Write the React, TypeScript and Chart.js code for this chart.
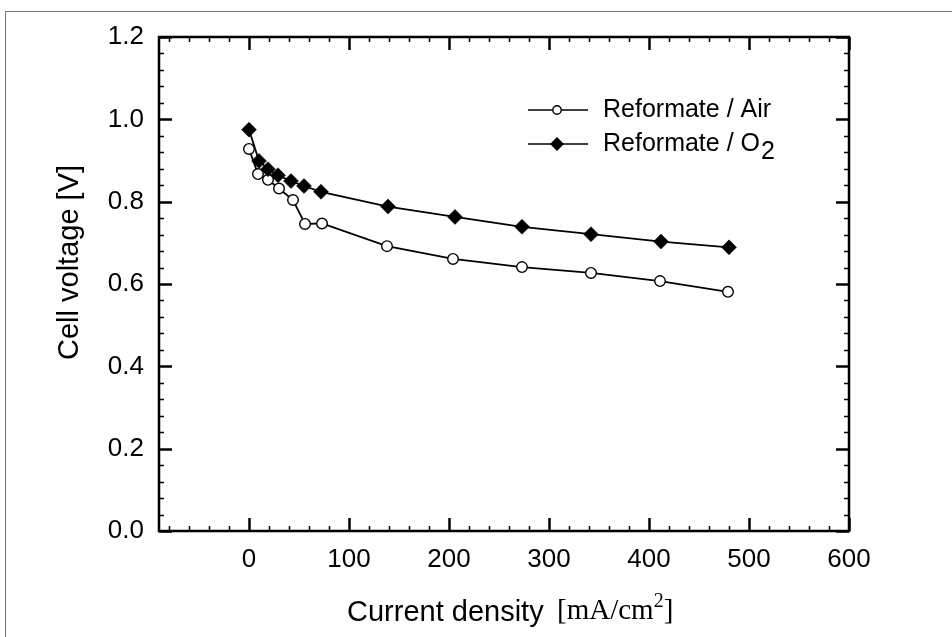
import React, { useEffect, useRef } from "react";
import { Chart, registerables } from "chart.js";

Chart.register(...registerables);

// ---- data ----
const airCurrent = [0, 9, 19, 30, 44, 56, 73, 138, 204, 273, 342, 411, 479];
const airVoltage = [0.928, 0.867, 0.853, 0.832, 0.804, 0.746, 0.747, 0.692, 0.661, 0.641, 0.627, 0.607, 0.581];
const o2Current = [0, 10, 19, 29, 42, 55, 72, 139, 206, 273, 342, 412, 480];
const o2Voltage = [0.975, 0.899, 0.879, 0.864, 0.85, 0.838, 0.824, 0.788, 0.763, 0.739, 0.721, 0.703, 0.689];

const xTickValues = [0, 100, 200, 300, 400, 500, 600];
const yTickValues = [0, 0.2, 0.4, 0.6, 0.8, 1.0, 1.2];
const xMinorStep = 20;
const yMinorStep = 0.04;

const airLabel = "Reformate / Air";
const o2LabelMain = "Reformate / O";
const o2LabelSub = "2";
const xTitleSans = "Current density";
const xTitleSerif = "[mA/cm";
const xTitleSup = "2";
const xTitleClose = "]";
const yTitle = "Cell voltage [V]";

const SANS = '"Liberation Sans", Arial, sans-serif';
const SERIF = '"Liberation Serif", "Times New Roman", serif';

const decorPlugin = {
  id: "decor",
  afterDatasetsDraw(chart: any) {
    const { ctx, chartArea: a, scales } = chart;
    const xs = scales.x;
    const ys = scales.y;
    ctx.save();
    ctx.strokeStyle = "#000";
    ctx.lineCap = "butt";

    const MAJ = 13;
    const MIN = 5;

    const xStart = Math.ceil(xs.min / xMinorStep);
    const xEnd = Math.floor(xs.max / xMinorStep);
    for (let i = xStart; i <= xEnd; i++) {
      const v = i * xMinorStep;
      const major = xTickValues.includes(v);
      const px = Math.round(xs.getPixelForValue(v)) + 0.5;
      const len = major ? MAJ : MIN;
      ctx.lineWidth = major ? 2.5 : 1.5;
      ctx.beginPath();
      ctx.moveTo(px, a.bottom);
      ctx.lineTo(px, a.bottom - len);
      ctx.moveTo(px, a.top);
      ctx.lineTo(px, a.top + len);
      ctx.stroke();
    }
    const yCount = Math.round((ys.max - ys.min) / yMinorStep);
    for (let i = 0; i <= yCount; i++) {
      const v = ys.min + i * yMinorStep;
      const major = yTickValues.some((t) => Math.abs(t - v) < 1e-6);
      const py = Math.round(ys.getPixelForValue(v)) + 0.5;
      const len = major ? MAJ : MIN;
      ctx.lineWidth = major ? 2.5 : 1.5;
      ctx.beginPath();
      ctx.moveTo(a.left, py);
      ctx.lineTo(a.left + len, py);
      ctx.moveTo(a.right, py);
      ctx.lineTo(a.right - len, py);
      ctx.stroke();
    }
    ctx.lineWidth = 2.5;
    ctx.strokeRect(a.left, a.top, a.right - a.left, a.bottom - a.top);
    ctx.restore();
  },
  afterDraw(chart: any) {
    const { ctx } = chart;
    ctx.save();
    ctx.fillStyle = "#000";
    ctx.strokeStyle = "#000";

    // ---- legend ----
    const lx0 = 528;
    const lx1 = 588;
    const mx = 557;
    const tx = 603;
    const rows = [110, 144];
    ctx.lineWidth = 1.6;
    rows.forEach((y) => {
      ctx.beginPath();
      ctx.moveTo(lx0, y);
      ctx.lineTo(lx1, y);
      ctx.stroke();
    });
    ctx.beginPath();
    ctx.arc(mx, rows[0], 4.2, 0, Math.PI * 2);
    ctx.fillStyle = "#fff";
    ctx.fill();
    ctx.lineWidth = 1.4;
    ctx.stroke();
    ctx.fillStyle = "#000";
    ctx.beginPath();
    const d = 7;
    ctx.moveTo(mx, rows[1] - d);
    ctx.lineTo(mx + d, rows[1]);
    ctx.lineTo(mx, rows[1] + d);
    ctx.lineTo(mx - d, rows[1]);
    ctx.closePath();
    ctx.fill();

    ctx.font = `25px ${SANS}`;
    ctx.textBaseline = "middle";
    ctx.textAlign = "left";
    ctx.fillText(airLabel, tx, rows[0]);
    ctx.fillText(o2LabelMain, tx, rows[1]);
    const w2 = ctx.measureText(o2LabelMain).width;
    ctx.fillText(o2LabelSub, tx + w2 + 1, rows[1] + 8);

    // ---- x title ----
    ctx.textBaseline = "alphabetic";
    ctx.font = `29px ${SANS}`;
    ctx.fillText(xTitleSans, 347, 621);
    let x = 557;
    ctx.font = `29px ${SERIF}`;
    ctx.fillText(xTitleSerif, x, 619);
    x += ctx.measureText(xTitleSerif).width;
    ctx.font = `20px ${SERIF}`;
    ctx.fillText(xTitleSup, x, 607);
    x += ctx.measureText(xTitleSup).width;
    ctx.font = `29px ${SERIF}`;
    ctx.fillText(xTitleClose, x, 619);

    // ---- y title ----
    ctx.save();
    ctx.translate(78, 360);
    ctx.rotate(-Math.PI / 2);
    ctx.font = `29px ${SANS}`;
    ctx.textAlign = "left";
    ctx.fillText(yTitle, 0, 0);
    ctx.restore();

    ctx.restore();
  },
};

export default function App() {
  const canvasRef = useRef<HTMLCanvasElement | null>(null);

  useEffect(() => {
    if (!canvasRef.current) return;
    const chart = new Chart(canvasRef.current, {
      type: "scatter",
      data: {
        datasets: [
          {
            label: "Reformate / O2",
            data: o2Current.map((c, i) => ({ x: c, y: o2Voltage[i] })),
            showLine: true,
            borderColor: "#000",
            borderWidth: 1.8,
            pointStyle: "rectRot",
            pointRadius: 7.5,
            pointBackgroundColor: "#000",
            pointBorderColor: "#000",
            pointBorderWidth: 0.5,
            order: 0,
          },
          {
            label: airLabel,
            data: airCurrent.map((c, i) => ({ x: c, y: airVoltage[i] })),
            showLine: true,
            borderColor: "#000",
            borderWidth: 1.8,
            pointStyle: "circle",
            pointRadius: 5.3,
            pointBackgroundColor: "#fff",
            pointBorderColor: "#000",
            pointBorderWidth: 1.4,
            order: 1,
          },
        ],
      },
      options: {
        animation: false,
        responsive: false,
        maintainAspectRatio: false,
        events: [],
        layout: { padding: { left: 0, top: 37, right: 103, bottom: 0 } },
        plugins: {
          legend: { display: false },
          tooltip: { enabled: false },
          title: { display: false },
        },
        scales: {
          x: {
            type: "linear",
            min: -90,
            max: 600,
            afterBuildTicks: (s: any) => {
              s.ticks = xTickValues.map((v) => ({ value: v }));
            },
            afterFit: (s: any) => {
              s.height = 106;
            },
            grid: { display: false, drawTicks: false },
            border: { display: false },
            ticks: {
              color: "#000",
              font: { family: SANS, size: 26 },
              padding: 13,
              maxRotation: 0,
              autoSkip: false,
            },
          },
          y: {
            type: "linear",
            min: 0,
            max: 1.2,
            afterBuildTicks: (s: any) => {
              s.ticks = yTickValues.map((v) => ({ value: v }));
            },
            afterFit: (s: any) => {
              s.width = 159;
            },
            grid: { display: false, drawTicks: false },
            border: { display: false },
            ticks: {
              color: "#000",
              font: { family: SANS, size: 26 },
              padding: 15,
              autoSkip: false,
              callback: (v: any) => Number(v).toFixed(1),
            },
          },
        },
      },
      plugins: [decorPlugin],
    });
    return () => chart.destroy();
  }, []);

  return (
    <div
      style={{
        position: "absolute",
        left: 0,
        top: 0,
        width: 952,
        height: 637,
        overflow: "hidden",
        background: "#fff",
      }}
    >
      <div
        style={{
          position: "absolute",
          left: 5,
          top: 11,
          width: 1000,
          height: 700,
          borderLeft: "1px solid #777",
          borderTop: "1px solid #777",
        }}
      />
      <canvas
        ref={canvasRef}
        width={952}
        height={637}
        style={{ position: "absolute", left: 0, top: 0, width: 952, height: 637 }}
      />
    </div>
  );
}
